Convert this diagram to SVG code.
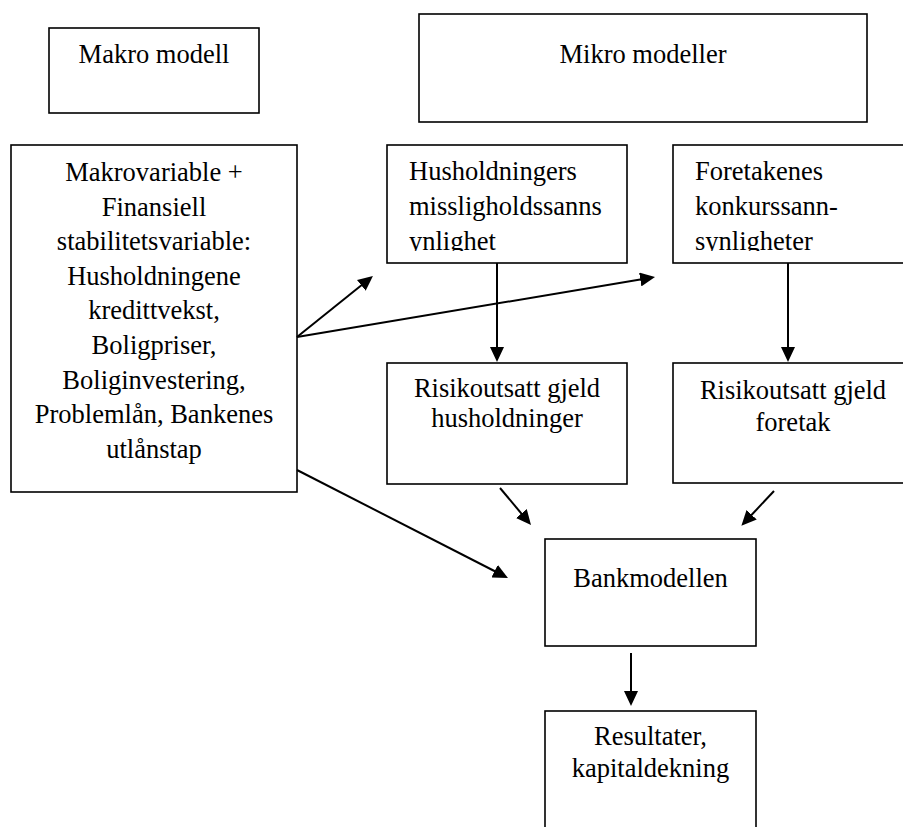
<svg xmlns="http://www.w3.org/2000/svg" width="903" height="827" viewBox="0 0 903 827">
  <style>
    .box { fill: #fff; stroke: #000; stroke-width: 1.6; }
    .t { font-family: "Liberation Serif", "Times New Roman", serif; font-size: 26.5px; fill: #000; }
    .c { text-anchor: middle; }
    .conn { stroke: #000; stroke-width: 2; fill: none; marker-end: url(#ah); }
  </style>
  <defs>
    <marker id="ah" viewBox="0 0 15 14" refX="3" refY="7" markerWidth="15" markerHeight="14" markerUnits="userSpaceOnUse" orient="auto">
      <path d="M0,0 L15,7 L0,14 z" fill="#000"/>
    </marker>
    <clipPath id="clipH"><rect x="387" y="145" width="240" height="106"/></clipPath>
    <clipPath id="clipF"><rect x="673" y="145" width="240" height="106"/></clipPath>
  </defs>
  <rect width="903" height="827" fill="#fff"/>

  <g id="makro-modell">
    <rect class="box" x="49" y="28" width="210" height="85"/>
    <text class="t c" x="154" y="63">Makro modell</text>
  </g>

  <g id="mikro-modeller">
    <rect class="box" x="419" y="14" width="448" height="108"/>
    <text class="t c" x="643" y="63">Mikro modeller</text>
  </g>

  <g id="makrovariable">
    <rect class="box" x="11" y="145" width="286" height="347"/>
    <text class="t c" x="154" y="181">Makrovariable +</text>
    <text class="t c" x="154" y="215.6">Finansiell</text>
    <text class="t c" x="154" y="250.2">stabilitetsvariable:</text>
    <text class="t c" x="154" y="284.8">Husholdningene</text>
    <text class="t c" x="154" y="319.4">kredittvekst,</text>
    <text class="t c" x="154" y="354">Boligpriser,</text>
    <text class="t c" x="154" y="388.6">Boliginvestering,</text>
    <text class="t c" x="154" y="423.2">Problemlån, Bankenes</text>
    <text class="t c" x="154" y="457.8">utlånstap</text>
  </g>

  <g id="husholdningers">
    <rect class="box" x="387" y="145" width="240" height="118"/>
    <g clip-path="url(#clipH)">
      <text class="t" x="409" y="180">Husholdningers</text>
      <text class="t" x="409" y="215">missligholdssanns</text>
      <text class="t" x="409" y="250">ynlighet</text>
    </g>
  </g>

  <g id="foretakenes">
    <rect class="box" x="673" y="145" width="240" height="118"/>
    <g clip-path="url(#clipF)">
      <text class="t" x="695" y="180">Foretakenes</text>
      <text class="t" x="695" y="215">konkurssann-</text>
      <text class="t" x="695" y="250">synligheter</text>
    </g>
  </g>

  <g id="risiko-husholdninger">
    <rect class="box" x="387" y="363" width="240" height="121"/>
    <text class="t c" x="507" y="397">Risikoutsatt gjeld</text>
    <text class="t c" x="507" y="427">husholdninger</text>
  </g>

  <g id="risiko-foretak">
    <rect class="box" x="673" y="363" width="240" height="120"/>
    <text class="t c" x="793" y="399">Risikoutsatt gjeld</text>
    <text class="t c" x="793" y="431">foretak</text>
  </g>

  <g id="bankmodellen">
    <rect class="box" x="545" y="539" width="211" height="107"/>
    <text class="t c" x="650.5" y="587">Bankmodellen</text>
  </g>

  <g id="resultater">
    <rect class="box" x="545" y="711" width="211" height="130"/>
    <text class="t c" x="650.5" y="745">Resultater,</text>
    <text class="t c" x="650.5" y="777">kapitaldekning</text>
  </g>

  <g id="connectors">
    <line class="conn" x1="297" y1="337" x2="363.6" y2="283.5"/>
    <line class="conn" x1="297" y1="337" x2="643.2" y2="279"/>
    <line class="conn" x1="297" y1="470" x2="497.3" y2="572.5"/>
    <line class="conn" x1="497" y1="263" x2="497" y2="350"/>
    <line class="conn" x1="788" y1="263" x2="788" y2="350"/>
    <line class="conn" x1="500" y1="488" x2="523.3" y2="515.8"/>
    <line class="conn" x1="774" y1="491" x2="749.6" y2="517"/>
    <line class="conn" x1="631" y1="653" x2="631" y2="694"/>
  </g>
</svg>
